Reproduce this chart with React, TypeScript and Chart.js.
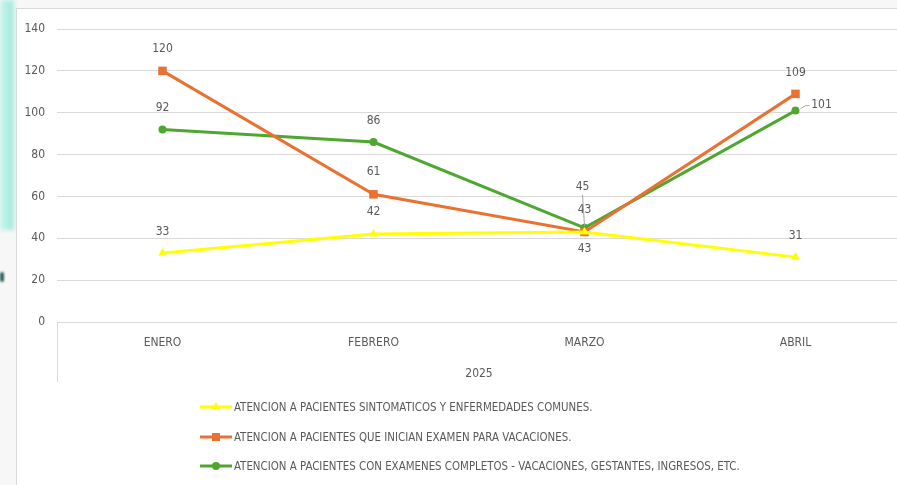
import React, { useEffect, useRef } from "react";
import { Chart, registerables } from "chart.js";

Chart.register(...registerables);

const categories = ["ENERO", "FEBRERO", "MARZO", "ABRIL"];
const groupLabel = "2025";
const sintomaticos = [33, 42, 43, 31];
const iniciaVacaciones = [120, 61, 43, 109];
const examenesCompletos = [92, 86, 45, 101];
const seriesNames = [
  "ATENCION A PACIENTES SINTOMATICOS Y ENFERMEDADES COMUNES.",
  "ATENCION A PACIENTES QUE INICIAN EXAMEN PARA VACACIONES.",
  "ATENCION A PACIENTES CON EXAMENES COMPLETOS - VACACIONES, GESTANTES, INGRESOS, ETC.",
];
const yMin = 0;
const yMax = 140;
const yStep = 20;

// label placement per dataset/point: [dx, dy, leader]
const labelPlacement: [number, number, boolean][][] = [
  [[0, -21, false], [0, -22, false], [0, 17, false], [0, -21, false]],
  [[0, -22, false], [0, -22, false], [0, -22, false], [0, -21, false]],
  [[0, -22, false], [0, -21, false], [-2, -41, true], [26, -6, true]],
];

const FONT = '"Liberation Sans Narrow", "DejaVu Sans Condensed", "Roboto Condensed", sans-serif';
const TEXT = "#595959";
const colors = ["#FFFF00", "#E97132", "#4EA72E"];
const pointStyles = ["triangle", "rect", "circle"];
const pointRadii = [5, 6, 4];

const extrasPlugin = {
  id: "extras",
  afterDatasetsDraw(chart: any) {
    const ctx = chart.ctx;
    ctx.save();
    ctx.font = `12px ${FONT}`;
    ctx.fillStyle = TEXT;
    ctx.textAlign = "center";
    ctx.textBaseline = "middle";
    chart.data.datasets.forEach((ds: any, di: number) => {
      const meta = chart.getDatasetMeta(di);
      meta.data.forEach((pt: any, i: number) => {
        const [dx, dy, leader] = labelPlacement[di][i];
        const lx = pt.x + dx;
        const ly = pt.y + dy;
        if (leader) {
          ctx.strokeStyle = "#a6a6a6";
          ctx.lineWidth = 1;
          ctx.beginPath();
          if (dx > 10) {
            ctx.moveTo(pt.x + 5, pt.y - 2);
            ctx.lineTo(pt.x + 10, pt.y - 5);
            ctx.lineTo(lx - 12, ly + 1);
          } else {
            ctx.moveTo(lx, ly + 8);
            ctx.lineTo(pt.x, pt.y - 2);
          }
          ctx.stroke();
        }
        ctx.fillStyle = TEXT;
        ctx.fillText(String(ds.data[i]), lx, ly);
      });
    });
    ctx.restore();
  },
  afterDraw(chart: any) {
    const ctx = chart.ctx;
    const area = chart.chartArea;
    ctx.save();
    ctx.strokeStyle = "#d9d9d9";
    ctx.lineWidth = 1;
    ctx.beginPath();
    ctx.moveTo(area.left + 0.5, area.bottom);
    ctx.lineTo(area.left + 0.5, area.bottom + 60);
    ctx.stroke();
    ctx.font = `12px ${FONT}`;
    ctx.fillStyle = TEXT;
    ctx.textAlign = "center";
    ctx.textBaseline = "middle";
    ctx.fillText(groupLabel, (area.left + area.right) / 2, area.bottom + 52);
    const lx0 = 184;
    const lx1 = 216;
    const ys = [399, 429, 458];
    chart.data.datasets.forEach((ds: any, di: number) => {
      const y = ys[di];
      ctx.strokeStyle = colors[di];
      ctx.lineWidth = 3;
      ctx.beginPath();
      ctx.moveTo(lx0, y);
      ctx.lineTo(lx1, y);
      ctx.stroke();
      ctx.fillStyle = colors[di];
      const cx = (lx0 + lx1) / 2;
      if (di === 0) {
        ctx.beginPath();
        ctx.moveTo(cx, y - 5);
        ctx.lineTo(cx + 4.5, y + 3);
        ctx.lineTo(cx - 4.5, y + 3);
        ctx.closePath();
        ctx.fill();
      } else if (di === 1) {
        ctx.fillRect(cx - 4, y - 4, 8, 8);
      } else {
        ctx.beginPath();
        ctx.arc(cx, y, 4, 0, Math.PI * 2);
        ctx.fill();
      }
      ctx.fillStyle = TEXT;
      ctx.textAlign = "left";
      ctx.font = `11.4px ${FONT}`;
      ctx.fillText(ds.label, lx1 + 2, y + 1);
    });
    ctx.restore();
  },
};

export default function App() {
  const ref = useRef<HTMLCanvasElement | null>(null);
  useEffect(() => {
    if (!ref.current) return;
    const series = [sintomaticos, iniciaVacaciones, examenesCompletos];
    const chart = new Chart(ref.current, {
      type: "line",
      data: {
        labels: categories,
        datasets: series.map((d, i) => ({
          label: seriesNames[i],
          data: d,
          borderColor: colors[i],
          backgroundColor: colors[i],
          borderWidth: 3,
          pointStyle: pointStyles[i] as any,
          pointRadius: pointRadii[i],
          pointBorderWidth: 0,
          pointBackgroundColor: colors[i],
          tension: 0,
        })),
      },
      options: {
        animation: false,
        responsive: false,
        devicePixelRatio: 1,
        layout: { padding: { top: 21, left: 0, right: 0, bottom: 0 } },
        plugins: {
          legend: { display: false },
          tooltip: { enabled: false },
          title: { display: false },
        },
        scales: {
          x: {
            type: "category",
            offset: true,
            grid: { display: false, drawTicks: false },
            border: { display: false },
            ticks: { color: TEXT, font: { family: FONT, size: 12 }, padding: 14, maxRotation: 0 },
            afterFit(scale: any) {
              scale.height = 163;
            },
          },
          y: {
            min: yMin,
            max: yMax,
            grid: { color: "#d9d9d9", drawTicks: false },
            border: { display: false },
            ticks: { stepSize: yStep, color: TEXT, font: { family: FONT, size: 12 }, padding: 12 },
            afterFit(scale: any) {
              scale.width = 41;
            },
          },
        },
      },
      plugins: [extrasPlugin],
    });
    return () => chart.destroy();
  }, []);

  return (
    <div style={{ position: "fixed", left: 0, top: 0, width: 897, height: 485, overflow: "hidden", background: "#f7f7f7" }}>
      <div style={{ position: "absolute", left: 0, top: 0, width: 14, height: 230, background: "linear-gradient(90deg, #c9f3ec, #9fe9dc)", filter: "blur(2px)" }} />
      <div style={{ position: "absolute", left: 0, top: 272, width: 4, height: 10, background: "#2f5d5d", borderRadius: 3, filter: "blur(1px)" }} />
      <div style={{ position: "absolute", left: 16, top: 8, width: 892, height: 477, background: "#fff", borderLeft: "1px solid #d9d9d9", borderTop: "1px solid #d9d9d9", boxSizing: "border-box" }}>
        <canvas ref={ref} width={891} height={477} style={{ position: "absolute", left: -1, top: -1 }} />
      </div>
    </div>
  );
}
